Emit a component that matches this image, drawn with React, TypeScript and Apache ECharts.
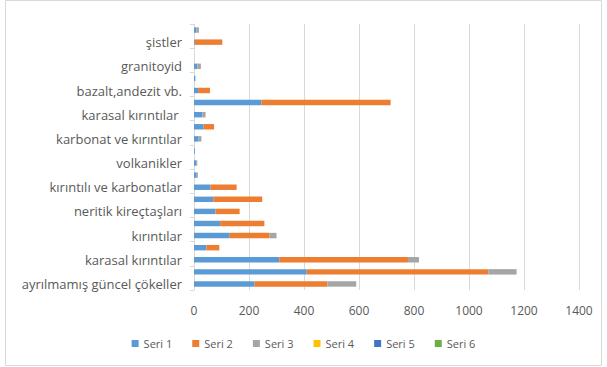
import React, { useEffect, useRef } from "react";
import * as echarts from "echarts";

const categories = [
  "ayrılmamış güncel çökeller",
  "alüvyon",
  "karasal kırıntılar",
  "kırıntılı ve volkanikler",
  "kırıntılar",
  "karbonatlar",
  "neritik kireçtaşları",
  "fliş",
  "kırıntılı ve karbonatlar",
  "pelajik kireçtaşları",
  "volkanikler",
  "ofiyolitler",
  "karbonat ve kırıntılar",
  "kırıntılı kayalar",
  "karasal kırıntılar ",
  "metamorfikler",
  "bazalt,andezit vb.",
  "mermerler",
  "granitoyid",
  "gnays",
  "şistler",
  "kuvarsit",
];

const seri1 = [220, 410, 310, 45, 130, 95, 78, 70, 60, 10, 8, 3, 17, 35, 30, 245, 15, 5, 12, 0, 3, 8];
const seri2 = [265, 660, 468, 47, 145, 161, 88, 178, 95, 0, 0, 0, 0, 38, 0, 470, 43, 0, 0, 0, 100, 0];
const seri3 = [105, 103, 40, 0, 25, 0, 0, 0, 0, 4, 4, 0, 10, 0, 12, 0, 0, 0, 13, 0, 0, 10];
const seri4 = [0, 0, 0, 0, 0, 0, 0, 0, 0, 0, 0, 0, 0, 0, 0, 0, 0, 0, 0, 0, 0, 0];
const seri5 = [0, 0, 0, 0, 0, 0, 0, 0, 0, 0, 0, 0, 0, 0, 0, 0, 0, 0, 0, 0, 0, 0];
const seri6 = [0, 0, 0, 0, 0, 0, 0, 0, 0, 0, 0, 0, 0, 0, 0, 0, 0, 0, 0, 0, 0, 0];

const seriesNames = ["Seri 1", "Seri 2", "Seri 3", "Seri 4", "Seri 5", "Seri 6"];
const seriesData = [seri1, seri2, seri3, seri4, seri5, seri6];
const colors = ["#5B9BD5", "#ED7D31", "#A5A5A5", "#FFC000", "#4472C4", "#70AD47"];

const FONT = "'Open Sans', 'Noto Sans', sans-serif";

export default function App() {
  const ref = useRef<HTMLDivElement>(null);
  useEffect(() => {
    document.body.style.margin = "0";
    if (!ref.current) return;
    const chart = echarts.init(ref.current, undefined, { renderer: "svg" });
    chart.setOption({
      animation: false,
      backgroundColor: "#ffffff",
      color: colors,
      textStyle: { fontFamily: FONT },
      graphic: [
        {
          type: "rect",
          shape: { x: 5.5, y: 0.5, width: 596, height: 365 },
          style: { fill: "none", stroke: "#D9D9D9", lineWidth: 1 },
          silent: true,
        },
      ],
      grid: { left: 194, right: 28, top: 24, bottom: 77, containLabel: false },
      xAxis: {
        type: "value",
        min: 0,
        max: 1400,
        interval: 200,
        axisLine: { show: false },
        axisTick: { show: false },
        axisLabel: {
          color: "#595959",
          fontSize: 12,
          margin: 14,
          fontFamily: FONT,
          formatter: (v: number) => String(v),
        },
        splitLine: { show: true, lineStyle: { color: "#D9D9D9", width: 1 } },
      },
      yAxis: {
        type: "category",
        data: categories,
        axisLine: { show: true, lineStyle: { color: "#D9D9D9" } },
        axisTick: { show: true, alignWithLabel: false, length: 4, lineStyle: { color: "#D9D9D9" } },
        axisLabel: { color: "#595959", fontSize: 13, interval: 1, margin: 12, fontFamily: FONT },
        splitLine: { show: false },
      },
      legend: {
        bottom: 13,
        left: "center",
        itemWidth: 7,
        itemHeight: 7,
        itemGap: 20,
        icon: "rect",
        textStyle: { color: "#595959", fontSize: 11, fontFamily: FONT },
        data: seriesNames,
      },
      series: seriesNames.map((name, i) => ({
        name,
        type: "bar",
        stack: "total",
        data: seriesData[i],
        barCategoryGap: "55%",
        itemStyle: { color: colors[i] },
      })),
    });
    return () => chart.dispose();
  }, []);
  return <div ref={ref} style={{ width: 607, height: 367 }} />;
}
